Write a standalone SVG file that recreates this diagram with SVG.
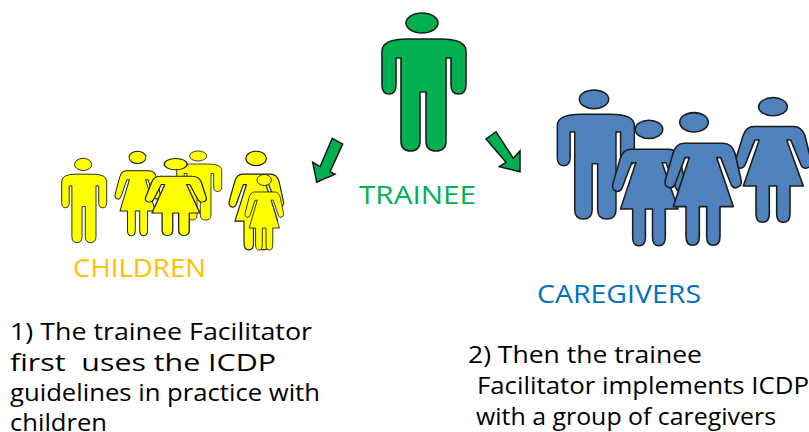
<svg xmlns="http://www.w3.org/2000/svg" width="809" height="432" viewBox="0 0 809 432">
<style>
text{font-family:"Open Sans","DejaVu Sans",sans-serif;font-size:24px;white-space:pre}
.b{fill:#000}
.fig *{stroke:#1c1c1c;stroke-width:1.6;vector-effect:non-scaling-stroke;stroke-linejoin:round}
.g{fill:#00b050}.y{fill:#ffff00}.u{fill:#4f81bd}
.arrow{fill:#00b050;stroke:#111;stroke-width:1.5}
.cap{font-size:26px}
</style>
<defs>
<g id="man"><ellipse cx="40" cy="10" rx="16" ry="10"/><path d="M0 38Q0 26 26 26L58 26Q84 26 84 38L84 72Q84 81 76.500 81Q69 81 69 72L69 45L64 45L64 128Q64 138 54 138Q44 138 44 128L44 79L38 79L38 128Q38 138 28.500 138Q19 138 19 128L19 45L14 45L14 72Q14 81 7 81Q0 81 0 72Z"/></g>
<path id="dress" d="M19 31L58 31Q67 31 70 41L76 67Q78 74 71 75.500Q68 76 66 72L55.700 45.300L51.700 45.300L68.300 94.300L55 94.300L55 124Q55 133 48.300 133Q41.700 133 41.700 124L41.700 94.300L34.300 94.300L34.300 124Q34.300 133 27.600 133Q21 133 21 124L21 94.300L8.300 94.300L24.300 45.300L20 45.300L10 72Q8 76 4.500 75.500Q-1.500 74 0.500 67L8 41Q11 31 19 31Z"/>
<g id="woman"><ellipse cx="38" cy="10" rx="14.300" ry="9.700"/><use href="#dress"/></g>
</defs>
<g id="connectors">
<polygon class="arrow" points="332.300,138.300 342.700,144 330,171.700 335,174.300 316.700,182.300 312.700,162.300 320,166.700"/>
<polygon class="arrow" points="486,139 496,131.700 513.300,158.300 520,151 520,171.700 499.300,166.700 506,162.300"/>
</g>
<g id="trainee-figure" class="fig g"><use href="#man" transform="translate(382 13)"/></g>
<g id="children-figures" class="fig y">
<use href="#man" transform="translate(61.700 158.300) scale(.536 .611)"/>
<use href="#man" transform="translate(176.700 151) scale(.536 .5)"/>
<use href="#woman" transform="translate(115 151) scale(.592 .637)"/>
<use href="#woman" transform="translate(145.300 158.300) scale(.8 .58)"/>
<use href="#woman" transform="translate(229 151) scale(.715 .744)"/>
<use href="#woman" transform="translate(245 174.300) scale(.505 .57)"/>
</g>
<g id="caregivers-figures" class="fig u">
<use href="#man" transform="translate(557.300 90) scale(.917 .935)"/>
<use href="#woman" transform="translate(735 97.300) scale(1 .94)"/>
<use href="#woman" transform="translate(612.500 120) scale(.96 .945)"/>
<g transform="translate(665 112.300)"><ellipse cx="29" cy="10" rx="14.300" ry="9.700"/><use href="#dress"/></g>
</g>
<g id="trainee-label"><text class="cap" x="359" y="204" fill="#00b050" textLength="117" lengthAdjust="spacingAndGlyphs">TRAINEE</text></g>
<g id="children-label"><text class="cap" x="73" y="277" fill="#ffc000" textLength="133" lengthAdjust="spacingAndGlyphs">CHILDREN</text></g>
<g id="caregivers-label"><text class="cap" x="537" y="303" fill="#0070c0" textLength="164" lengthAdjust="spacingAndGlyphs">CAREGIVERS</text></g>
<g id="note-1">
<text class="b" x="10" y="340" textLength="302" lengthAdjust="spacingAndGlyphs">1) The trainee Facilitator</text>
<text class="b" x="10" y="371" textLength="266" lengthAdjust="spacingAndGlyphs">first  uses the ICDP</text>
<text class="b" x="10" y="401" textLength="310" lengthAdjust="spacingAndGlyphs">guidelines in practice with</text>
<text class="b" x="10" y="431" textLength="97" lengthAdjust="spacingAndGlyphs">children</text>
</g>
<g id="note-2">
<text class="b" x="468" y="363" textLength="234" lengthAdjust="spacingAndGlyphs">2) Then the trainee</text>
<text class="b" x="477" y="394" textLength="332" lengthAdjust="spacingAndGlyphs">Facilitator implements ICDP</text>
<text class="b" x="476" y="425" textLength="300" lengthAdjust="spacingAndGlyphs">with a group of caregivers</text>
</g>
</svg>
